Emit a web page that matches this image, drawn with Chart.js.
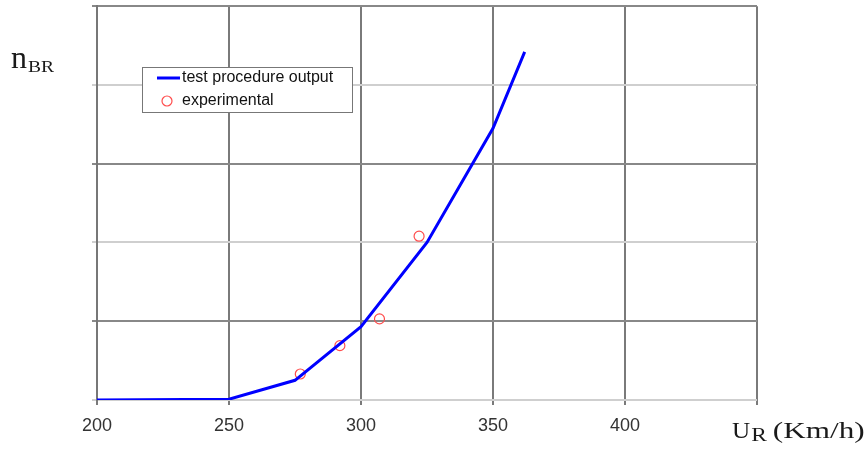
<!DOCTYPE html>
<html>
<head>
<meta charset="utf-8">
<script src="https://cdn.jsdelivr.net/npm/chart.js@4/dist/chart.umd.min.js"></script>
<style>
  html, body { margin: 0; padding: 0; background: #fff; }
  #wrap { width: 868px; height: 449px; }
</style>
</head>
<body>
<div id="wrap"><canvas id="chart" width="868" height="449"></canvas></div>
<script>
// modelled curve (speed km/h, n_BR)
const speedModel = [200, 250, 275, 300, 325, 350, 362];
const nModel = [0, 0.01, 0.25, 0.93, 2.0, 3.45, 4.42];

// measured points
const speedExp = [277, 292, 307, 322];
const nExp = [0.33, 0.69, 1.03, 2.08];

const xTicks = [200, 250, 300, 350, 400];
const legendLabels = ['test procedure output', 'experimental'];

// draw text stretched horizontally (wide serif look)
function wideText(c, txt, x, y, sx) {
  c.save();
  c.translate(x, y);
  c.scale(sx, 1);
  c.fillText(txt, 0, 0);
  const w = c.measureText(txt).width * sx;
  c.restore();
  return w;
}

// titles and boxed legend drawn by hand
const decor = {
  id: 'decor',
  afterDraw(chart) {
    const c = chart.ctx;
    c.save();
    c.fillStyle = '#1a1a1a';
    c.textBaseline = 'alphabetic';
    c.textAlign = 'left';
    // y title n_BR
    c.font = '32px "Liberation Serif", serif';
    let x = 11 + wideText(c, 'n', 11, 68, 1.0);
    c.font = '17px "Liberation Serif", serif';
    wideText(c, 'BR', x + 1, 72, 1.15);
    // x title U_R (Km/h)
    x = 732;
    c.font = '24px "Liberation Serif", serif';
    x += wideText(c, 'U', x, 438, 1.05);
    c.font = '18px "Liberation Serif", serif';
    x += wideText(c, 'R', x + 1, 441, 1.3);
    c.font = '24px "Liberation Serif", serif';
    wideText(c, '(Km/h)', x + 7, 438, 1.3);

    // legend
    c.fillStyle = '#fff';
    c.fillRect(142, 67, 210, 45);
    c.strokeStyle = '#777';
    c.lineWidth = 1;
    c.strokeRect(142.5, 67.5, 210, 45);
    c.strokeStyle = '#0000ff';
    c.lineWidth = 3;
    c.beginPath();
    c.moveTo(157, 78);
    c.lineTo(180, 78);
    c.stroke();
    c.strokeStyle = '#ff4d4d';
    c.lineWidth = 1.2;
    c.beginPath();
    c.arc(167, 101, 5, 0, Math.PI * 2);
    c.stroke();
    c.fillStyle = '#111';
    c.font = '16px "Liberation Sans", Arial, sans-serif';
    c.textBaseline = 'middle';
    c.fillText(legendLabels[0], 182, 78);
    c.fillText(legendLabels[1], 182, 101);
    c.restore();
  }
};

new Chart(document.getElementById('chart'), {
  type: 'scatter',
  data: {
    datasets: [{
      type: 'line',
      label: legendLabels[0],
      data: speedModel.map((x, i) => ({ x, y: nModel[i] })),
      borderColor: '#0000ff',
      borderWidth: 3,
      pointRadius: 0,
      tension: 0,
      fill: false
    }, {
      label: legendLabels[1],
      data: speedExp.map((x, i) => ({ x, y: nExp[i] })),
      borderColor: '#ff4d4d',
      backgroundColor: 'rgba(0,0,0,0)',
      borderWidth: 1.2,
      pointRadius: 5
    }]
  },
  options: {
    responsive: false,
    animation: false,
    layout: { padding: { left: 92, right: 111, top: 6, bottom: 0 } },
    plugins: { legend: { display: false }, tooltip: { enabled: false } },
    scales: {
      x: {
        type: 'linear',
        min: 200,
        max: 450,
        afterFit: s => { s.height = 49; },
        afterBuildTicks: s => { s.ticks = xTicks.concat([450]).map(v => ({ value: v })); },
        ticks: {
          padding: 10,
          color: '#333',
          font: { family: '"Liberation Sans", Arial, sans-serif', size: 18 },
          callback: v => (xTicks.includes(v) ? String(v) : '')
        },
        grid: { color: '#7a7a7a', lineWidth: 2, tickLength: 5 },
        border: { display: false }
      },
      y: {
        min: 0,
        max: 5,
        afterFit: s => { s.width = 5; },
        ticks: { stepSize: 1, display: false },
        grid: {
          tickLength: 5,
          lineWidth: 2,
          color: ctx => (ctx.tick && (ctx.tick.value % 2 === 1) ? '#888' : '#cfcfcf')
        },
        border: { color: '#777', width: 2 }
      }
    }
  },
  plugins: [decor]
});
</script>
</body>
</html>
